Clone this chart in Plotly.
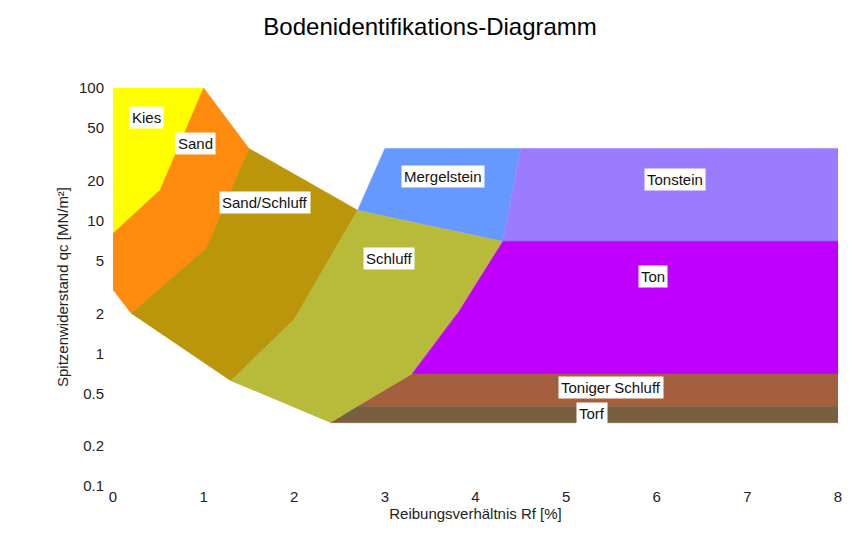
import math
import plotly.graph_objects as go

# ── Bodenarten: Polygone (Rf [%], qc [MN/m²]) ────────────────────────────────
kies_x = [0, 0, 1.0, 0.52]
kies_y = [8, 100, 100, 17]

sand_x = [0, 0, 0.52, 1.0, 1.5, 1.03, 0.2]
sand_y = [3, 8, 17, 100, 35, 6.2, 2]

sandschluff_x = [0.2, 1.03, 1.5, 2.7, 2.0, 1.3]
sandschluff_y = [2, 6.2, 35, 12, 1.8, 0.62]

schluff_x = [1.3, 2.0, 2.7, 4.3, 3.8, 3.3, 2.7, 2.4]
schluff_y = [0.62, 1.8, 12, 7, 2, 0.7, 0.4, 0.3]

mergel_x = [2.7, 3.0, 4.5, 4.3]
mergel_y = [12, 35, 35, 7]

tonstein_x = [4.5, 8, 8, 4.3]
tonstein_y = [35, 35, 7, 7]

ton_x = [4.3, 8, 8, 3.3, 3.8]
ton_y = [7, 7, 0.7, 0.7, 2]

tonschluff_x = [3.3, 8, 8, 2.7]
tonschluff_y = [0.7, 0.7, 0.4, 0.4]

torf_x = [2.7, 8, 8, 2.4]
torf_y = [0.4, 0.4, 0.3, 0.3]

# Beschriftungen
label_text = ["Kies", "Sand", "Sand/Schluff", "Mergelstein", "Tonstein",
              "Schluff", "Ton", "Toniger Schluff", "Torf"]
label_x = [0.375, 0.905, 1.68, 3.64, 6.2, 3.04, 5.96, 5.5, 5.29]
label_y = [60, 38.5, 13.6, 21.7, 20.6, 5.2, 3.77, 0.55, 0.355]

y_ticks = [100, 50, 20, 10, 5, 2, 1, 0.5, 0.2, 0.1]
y_ticktext = ["100", "50", "20", "10", "5", "2", "1", "0.5", "0.2", "0.1"]

regionen = [
    ("Kies", kies_x, kies_y, "#FFFF00"),
    ("Sand", sand_x, sand_y, "#FE8B0E"),
    ("Sand/Schluff", sandschluff_x, sandschluff_y, "#BC960A"),
    ("Schluff", schluff_x, schluff_y, "#B8BA3A"),
    ("Mergelstein", mergel_x, mergel_y, "#6699FF"),
    ("Tonstein", tonstein_x, tonstein_y, "#9B7CFE"),
    ("Ton", ton_x, ton_y, "#C000FF"),
    ("Toniger Schluff", tonschluff_x, tonschluff_y, "#A45F3F"),
    ("Torf", torf_x, torf_y, "#7A5F3E"),
]

fig = go.Figure()
for name, xs, ys, farbe in regionen:
    fig.add_trace(go.Scatter(
        x=xs, y=ys,
        mode="lines",
        fill="toself",
        fillcolor=farbe,
        line=dict(color=farbe, width=0.5),
        name=name,
        hoverinfo="name",
    ))

# Annotationen auf Log-Achse brauchen log10-Werte
for t, lx, ly in zip(label_text, label_x, label_y):
    fig.add_annotation(
        x=lx, y=math.log10(ly), yref="y", xref="x",
        text=t, showarrow=False,
        bgcolor="white",
        font=dict(size=15, color="#111", family="Liberation Sans, Arial"),
        borderpad=2,
    )

fig.update_layout(
    title=dict(text="Bodenidentifikations-Diagramm", x=0.496, y=0.965,
               xanchor="center", yanchor="middle",
               font=dict(size=24, color="black")),
    width=851, height=539,
    showlegend=False,
    plot_bgcolor="white",
    paper_bgcolor="white",
    font=dict(family="Liberation Sans, Arial", size=15, color="#222"),
    margin=dict(l=105, r=21, t=80, b=61),
)
fig.update_xaxes(
    range=[0, 8], dtick=1, showgrid=False, zeroline=False, showline=False,
    ticks="", ticklabelstandoff=0,
    title=dict(text="Reibungsverhältnis Rf [%]", font=dict(size=15), standoff=4),
)
fig.update_yaxes(
    type="log", range=[-1, 2], tickvals=y_ticks, ticktext=y_ticktext,
    showgrid=False, zeroline=False, showline=False, ticks="",
    ticklabelstandoff=8,
    title=dict(text="Spitzenwiderstand qc [MN/m²]", font=dict(size=15), standoff=6),
)

fig.write_html("out.html")
